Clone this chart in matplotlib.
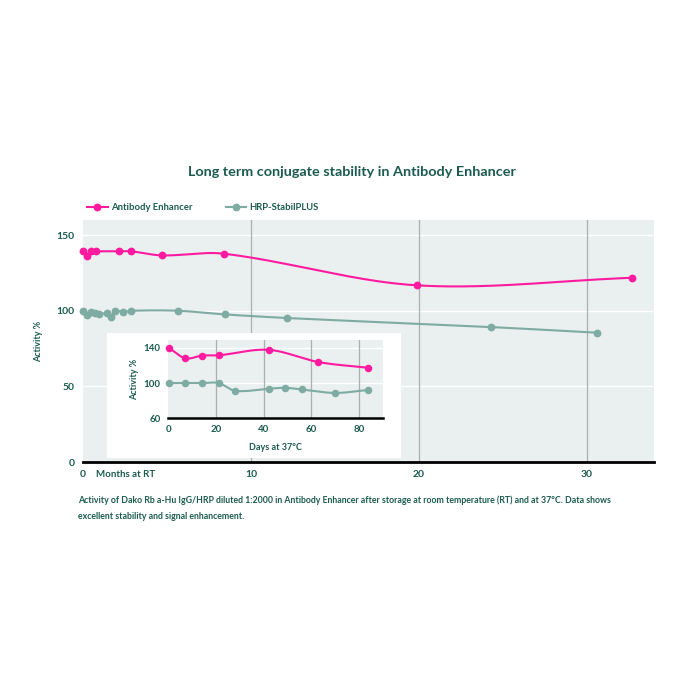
import numpy as np
import matplotlib
matplotlib.use("Agg")
import matplotlib.pyplot as plt
from matplotlib.lines import Line2D
from matplotlib.patches import Rectangle

# main chart: months at room temperature
months_ae = [0, 0.25, 0.5, 0.75, 2.15, 2.85, 4.7, 8.4, 19.9, 32.7]
activity_ae = [139.5, 136.5, 139.3, 139.3, 139.3, 139.3, 136.6, 137.7, 116.8, 121.8]
months_hrp = [0, 0.25, 0.5, 0.72, 0.97, 1.42, 1.67, 1.9, 2.38, 2.86, 5.63, 8.43, 12.15, 24.3, 30.6]
activity_hrp = [100, 97, 99.3, 98.4, 97.6, 98.4, 95.8, 100, 99.1, 100, 100, 97.6, 95.2, 89.2, 85.5]

# inset: days at 37 C
days_ae = [0, 7, 14, 21, 42, 63, 84]
inset_ae = [140, 128.1, 131.2, 131.5, 137.7, 123.8, 117.3]
days_hrp = [0, 7, 14, 21, 28, 42, 49, 56, 70, 84]
inset_hrp = [100, 100, 100, 100, 91.2, 93.5, 94.6, 92.7, 88.8, 92.3]

PINK = "#ff1a9f"
TEAL = "#7eaba2"
BG = "#e9f0ef"
TXT = "#1b5b4f"
GRID = "#a9b0ae"

plt.rcParams['font.family'] = ['Lato', 'DejaVu Sans']


def smooth(x, y, n=40):
    # cubic hermite with finite-difference tangents (catmull-rom like)
    x = np.asarray(x, float)
    y = np.asarray(y, float)
    m = np.zeros_like(y)
    m[0] = (y[1] - y[0]) / (x[1] - x[0])
    m[-1] = (y[-1] - y[-2]) / (x[-1] - x[-2])
    m[1:-1] = (y[2:] - y[:-2]) / (x[2:] - x[:-2])
    xs, ys = [], []
    for i in range(len(x) - 1):
        h = x[i + 1] - x[i]
        t = np.linspace(0, 1, n)
        h00 = 2 * t**3 - 3 * t**2 + 1
        h10 = t**3 - 2 * t**2 + t
        h01 = -2 * t**3 + 3 * t**2
        h11 = t**3 - t**2
        xs.append(x[i] + t * h)
        ys.append(h00 * y[i] + h10 * h * m[i] + h01 * y[i + 1] + h11 * h * m[i + 1])
    return np.concatenate(xs), np.concatenate(ys)


fig = plt.figure(figsize=(7, 7), dpi=100)

# ---- main axes ----
ax = fig.add_axes([0.1186, 0.34, 0.8157, 0.3457])
ax.set_facecolor(BG)
ax.set_xlim(0, 34)
ax.set_ylim(0, 160)
for s in ['top', 'right', 'left']:
    ax.spines[s].set_visible(False)
ax.spines['bottom'].set_linewidth(2)
ax.spines['bottom'].set_color('black')
for v in [50, 100, 150]:
    ax.axhline(v, color='white', lw=1, zorder=1)
for v in [10, 20, 30]:
    ax.axvline(v, color=GRID, lw=0.9, zorder=1)

sx, sy = smooth(months_ae, activity_ae)
ax.plot(sx, sy, color=PINK, lw=1.5, zorder=3)
ax.plot(months_ae, activity_ae, 'o', color=PINK, ms=4.6, zorder=4, clip_on=False)
sx, sy = smooth(months_hrp, activity_hrp)
ax.plot(sx, sy, color=TEAL, lw=1.5, zorder=3)
ax.plot(months_hrp, activity_hrp, 'o', color=TEAL, ms=4.6, zorder=4, clip_on=False)

ax.set_xticks([0, 10, 20, 30])
ax.set_yticks([0, 50, 100, 150])
ax.tick_params(length=0, colors=TXT, labelsize=7.5, pad=6)
for lab in ax.get_xticklabels() + ax.get_yticklabels():
    lab.set_fontweight('bold')
ax.text(0.75, -5.5, "Months at RT", color=TXT, fontsize=7, fontweight='bold',
        ha='left', va='top')
ax.set_ylabel("Activity %", color=TXT, fontsize=6.5, fontweight='bold', labelpad=10)

# white box behind inset
fig.patches.append(Rectangle((0.1529, 0.3457), 0.42, 0.1786, transform=fig.transFigure,
                             facecolor='white', edgecolor='none', zorder=5))

# ---- inset ----
ins = fig.add_axes([0.2393, 0.4024, 0.3074, 0.1117])
ins.set_zorder(6)
ins.set_facecolor(BG)
ins.set_xlim(-0.5, 90)
ins.set_ylim(60, 148.7)
for s in ['top', 'right', 'left']:
    ins.spines[s].set_visible(False)
ins.spines['bottom'].set_linewidth(1.8)
ins.spines['bottom'].set_color('black')
for v in [100, 140]:
    ins.axhline(v, color='white', lw=1, zorder=1)
for v in [20, 40, 60, 80]:
    ins.axvline(v, color=GRID, lw=0.9, zorder=1)
sx, sy = smooth(days_ae, inset_ae)
ins.plot(sx, sy, color=PINK, lw=1.5, zorder=3)
ins.plot(days_ae, inset_ae, 'o', color=PINK, ms=4.4, zorder=4, clip_on=False)
sx, sy = smooth(days_hrp, inset_hrp)
ins.plot(sx, sy, color=TEAL, lw=1.5, zorder=3)
ins.plot(days_hrp, inset_hrp, 'o', color=TEAL, ms=4.4, zorder=4, clip_on=False)
ins.set_xticks([0, 20, 40, 60, 80])
ins.set_yticks([60, 100, 140])
ins.tick_params(length=0, colors=TXT, labelsize=7, pad=5)
for lab in ins.get_xticklabels() + ins.get_yticklabels():
    lab.set_fontweight('bold')
ins.set_xlabel("Days at 37°C", color=TXT, fontsize=6.5, fontweight='bold', labelpad=6)
ins.set_ylabel("Activity %", color=TXT, fontsize=6.5, fontweight='bold', labelpad=3)

# ---- title, legend, caption ----
fig.text(0.503, 0.754, "Long term conjugate stability in Antibody Enhancer",
         ha='center', va='center', color=TXT, fontsize=10.4, fontweight='bold')
handles = [Line2D([], [], color=PINK, lw=1.5, marker='o', ms=4.6),
           Line2D([], [], color=TEAL, lw=1.5, marker='o', ms=4.6)]
fig.legend(handles, ["Antibody Enhancer", "HRP-StabilPLUS"], loc='center left',
           bbox_to_anchor=(0.112, 0.703), ncol=2, frameon=False,
           handlelength=2.2, handletextpad=0.35, columnspacing=3.5, labelcolor=TXT,
           prop={'weight': 'bold', 'size': 6.8})

fig.text(0.111, 0.2736,
         "Activity of Dako Rb a-Hu IgG/HRP diluted 1:2000 in Antibody Enhancer after storage at room temperature (RT) and at 37°C. Data shows\nexcellent stability and signal enhancement.",
         ha='left', va='center', color=TXT, fontsize=6.35, fontweight='bold', linespacing=1.95)

fig.savefig("out.png", dpi=100)
